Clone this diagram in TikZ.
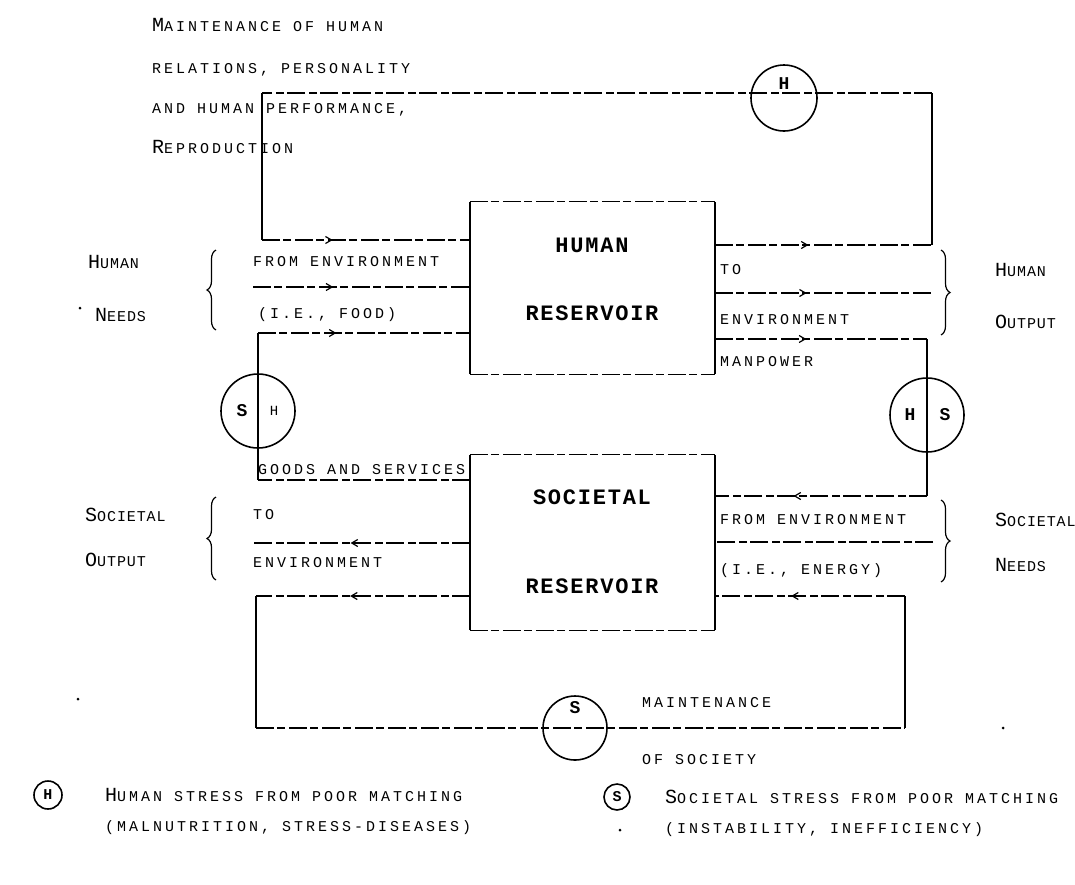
\documentclass[tikz,border=0pt]{standalone}
\usepackage{fontspec}
\usetikzlibrary{decorations.markings,decorations.pathreplacing,arrows.meta}
\newfontfamily\tw[LetterSpace=20]{Liberation Mono}
\newfontfamily\twn[LetterSpace=6]{Liberation Mono}
\newfontfamily\twb[LetterSpace=8]{Liberation Mono}
\newcommand\tcap[2]{{\fontsize{20}{20}\selectfont #1}#2}
\begin{document}
\begin{tikzpicture}[x=1pt,y=-1pt,
  hline/.style={line width=1.3pt, dash pattern=on 18pt off 3pt on 8pt off 4pt},
  vline/.style={line width=1.8pt},
  arr/.style={postaction={decorate,decoration={markings,mark=at position #1 with {\arrow{Straight Barb[length=6pt,width=7pt,line width=1.2pt]}}}}},
  lbl/.style={anchor=west,inner sep=0pt,font=\tw\fontsize{15}{15}\selectfont},
  side/.style={anchor=west,inner sep=0pt,font=\twn\fontsize{15}{15}\selectfont},
  boxlbl/.style={inner sep=0pt,font=\twb\bfseries\fontsize{22}{22}\selectfont},
  ring/.style={circle,draw,line width=1.6pt,inner sep=0pt},
  ringtxt/.style={inner sep=0pt,font=\twb\bfseries\fontsize{18}{18}\selectfont},
  brl/.style={decorate,decoration={brace,amplitude=9pt},line width=1.2pt},
  resbox/.style={minimum width=245pt,minimum height=172pt,inner sep=0pt},
  speck/.style={circle,fill,inner sep=0pt,minimum size=3pt}
]
\fill[white] (0,0) rectangle (1075,884);
\useasboundingbox (0,0) rectangle (1075,884);

% reservoirs
\node[resbox] (hr) at (592.5,288) {};
\node[resbox,minimum height=175pt] (sr) at (592.5,542.5) {};
\foreach \b in {hr,sr}{
  \draw[vline] (\b.north west) -- (\b.south west);
  \draw[vline] (\b.north east) -- (\b.south east);
  \draw[hline] (\b.north west) -- (\b.north east);
  \draw[hline] (\b.south west) -- (\b.south east);
}
\node[boxlbl] (hrt1) at (592,245) {HUMAN};
\node[boxlbl] (hrt2) at (592,313) {RESERVOIR};
\node[boxlbl] (srt1) at (592,497) {SOCIETAL};
\node[boxlbl] (srt2) at (592,586) {RESERVOIR};

% turning points
\coordinate (t1) at (932,245);
\coordinate (t2) at (932,93);
\coordinate (t3) at (262,93);
\coordinate (t4) at (262,240);
\coordinate (fe1) at (253,287);
\coordinate (g1) at (258,480);
\coordinate (g2) at (258,333);
\coordinate (fe2) at (933,293);
\coordinate (m1) at (927,339);
\coordinate (m2) at (927,496);
\coordinate (fe3) at (933,542);
\coordinate (fe4) at (253,543);
\coordinate (b1) at (905,596);
\coordinate (b2) at (905,728);
\coordinate (b3) at (256,728);
\coordinate (b4) at (256,596);

% circles
\node[ring,minimum size=66pt] (ch) at (784,98) {};
\node[ringtxt] (cht) at (784,84) {H};
\node[ring,minimum size=74pt] (csh) at (258,411) {};
\node[ringtxt] (csht1) at (242,411) {S};
\node[ringtxt,font=\tw\fontsize{14}{14}\selectfont] (csht2) at (274,411) {H};
\node[ring,minimum size=74pt] (chs) at (927,415) {};
\node[ringtxt] (chst1) at (910,415) {H};
\node[ringtxt] (chst2) at (945,415) {S};
\node[ring,minimum size=64pt] (cs) at (575,728) {};
\node[ringtxt] (cst) at (575,708) {S};

% top loop (maintenance of human)
\draw[hline,arr=0.43] (hr.east |- t1) -- (t1);
\draw[vline] (t1) -- (t2);
\draw[hline] (t2) -- (t3);
\draw[vline] (t3) -- (t4);
\draw[hline,arr=0.34] (t4) -- (hr.west |- t4);

% from environment into human reservoir
\draw[hline,arr=0.37] (fe1) -- (hr.west |- fe1);
% goods and services (society -> human)
\draw[hline] (sr.west |- g1) -- (g1);
\draw[vline] (g1) -- (g2);
\draw[hline,arr=0.37] (g2) -- (hr.west |- g2);

% human output to environment
\draw[hline,arr=0.42] (hr.east |- fe2) -- (fe2);
% manpower (human -> society)
\draw[hline,arr=0.43] (hr.east |- m1) -- (m1);
\draw[vline] (m1) -- (m2);
\draw[hline,arr=0.63] (m2) -- (sr.east |- m2);

% societal needs from environment
\draw[hline] (fe3) -- (sr.east |- fe3);
% societal output to environment
\draw[hline,arr=0.55] (sr.west |- fe4) -- (fe4);

% bottom loop (maintenance of society)
\draw[hline,arr=0.6] (b1) -- (sr.east |- b1);
\draw[vline] (b2) -- (b1);
\draw[hline] (b3) -- (b2);
\draw[vline] (b4) -- (b3);
\draw[hline,arr=0.56] (sr.west |- b4) -- (b4);

% top text
\node[lbl] (tx1) at (152,25) {\tcap{M}{AINTENANCE OF HUMAN}};
\node[lbl] (tx2) at (152,70) {RELATIONS, PERSONALITY};
\node[lbl] (tx3) at (152,110) {AND HUMAN PERFORMANCE,};
\node[lbl] (tx4) at (152,147) {\tcap{R}{EPRODUCTION}};

% human left
\node[side] (hn1) at (88,262) {\tcap{H}{UMAN}};
\node[side] (hn2) at (95,315) {\tcap{N}{EEDS}};
\node[speck] (sp1) at (80,308) {};
\draw[brl] (216,330) -- (216,250);
\node[lbl] (fe1t) at (253,262) {FROM ENVIRONMENT};
\node[lbl] (fe1u) at (258,315) {(I.E., FOOD)};

% human right
\node[lbl] (ho1) at (720,270) {TO};
\node[lbl] (ho2) at (720,320) {ENVIRONMENT};
\node[lbl] (ho3) at (720,362) {MANPOWER};
\draw[brl] (941,250) -- (941,335);
\node[side] (hoh) at (995,270) {\tcap{H}{UMAN}};
\node[side] (hoo) at (995,322) {\tcap{O}{UTPUT}};

% societal left
\node[lbl] (gs) at (258,470) {GOODS AND SERVICES};
\node[lbl] (so1) at (253,515) {TO};
\node[lbl] (so2) at (253,563) {ENVIRONMENT};
\draw[brl] (216,580) -- (216,497);
\node[side] (sos) at (85,515) {\tcap{S}{OCIETAL}};
\node[side] (soo) at (85,560) {\tcap{O}{UTPUT}};

% societal right
\node[lbl] (sn1) at (720,520) {FROM ENVIRONMENT};
\node[lbl] (sn2) at (720,571) {(I.E., ENERGY)};
\draw[brl] (941,500) -- (941,582);
\node[side] (sns) at (995,520) {\tcap{S}{OCIETAL}};
\node[side] (snn) at (995,565) {\tcap{N}{EEDS}};

% bottom loop label
\node[lbl] (ms1) at (642,703) {MAINTENANCE};
\node[lbl] (ms2) at (642,760) {OF SOCIETY};
\node[speck] (sp2) at (78,699) {};
\node[speck] (sp3) at (1003,728) {};

% legend
\node[ring,minimum size=28pt] (lh) at (48,795) {};
\node[ringtxt,font=\twb\bfseries\fontsize{15}{15}\selectfont] (lht) at (48,795) {H};
\node[lbl] (lh1) at (105,795) {\tcap{H}{UMAN}  STRESS FROM POOR MATCHING};
\node[lbl] (lh2) at (105,828) {(MALNUTRITION, STRESS-DISEASES)};
\node[ring,minimum size=26pt] (ls) at (617,797) {};
\node[ringtxt,font=\twb\bfseries\fontsize{15}{15}\selectfont] (lst) at (617,797) {S};
\node[speck] (sp4) at (620,830) {};
\node[lbl] (ls1) at (665,797) {\tcap{S}{OCIETAL} STRESS FROM POOR MATCHING};
\node[lbl] (ls2) at (665,830) {(INSTABILITY, INEFFICIENCY)};
\end{tikzpicture}
\end{document}
